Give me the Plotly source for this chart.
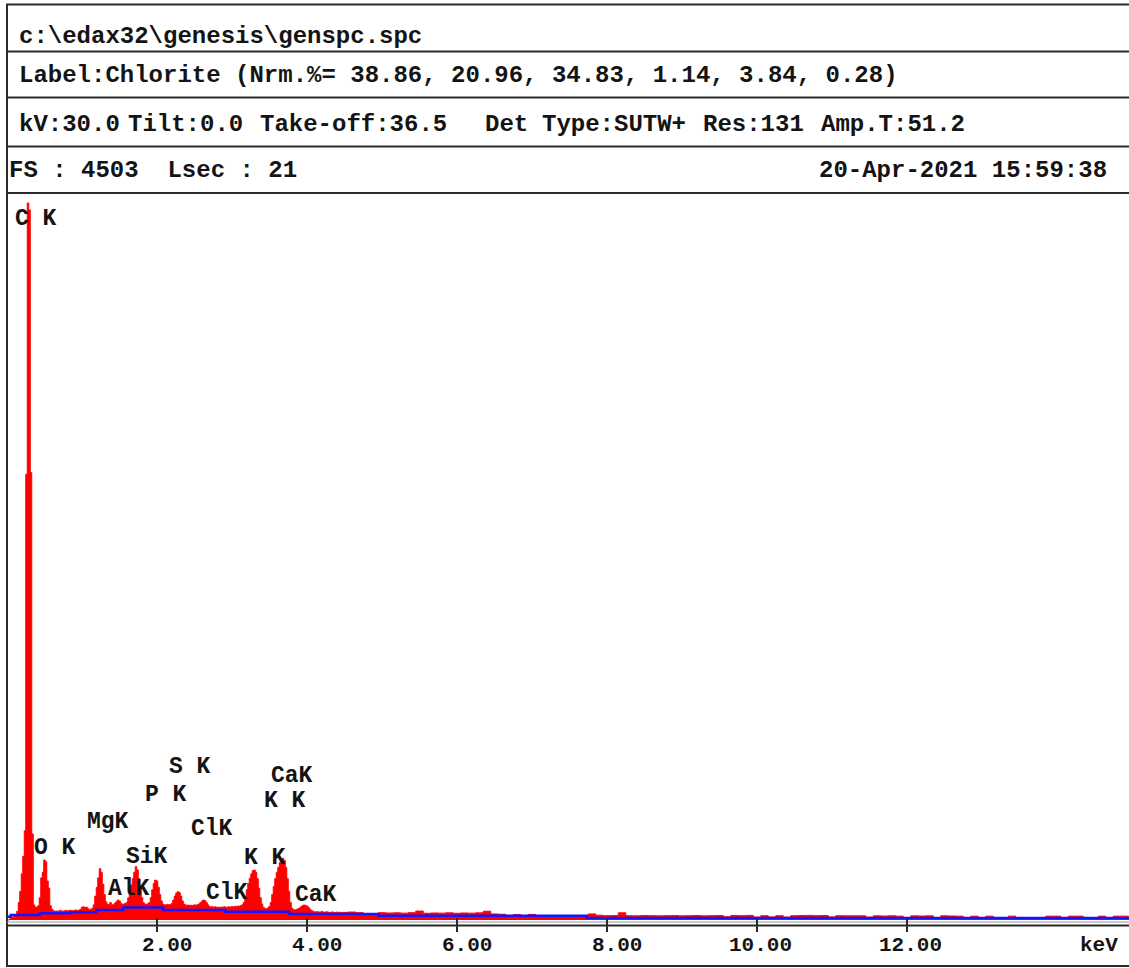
import numpy as np
import plotly.graph_objects as go

W, H = 1129, 968

# ---- spectrum counts -------------------------------------------------------
# 20 eV channels from 0.00 to 4.48 keV
fine_start, fine_step = 0.0, 0.02
fine_counts = [
    0, 0, 6, 12, 18, 25, 35, 55, 110, 180,                 # 0.00-0.18
    290, 400, 560, 2800, 4503, 4460, 2810, 540, 95, 82,    # 0.20-0.38
    80, 90, 140, 265, 300, 377, 365, 245, 200, 90,         # 0.40-0.58
    68, 58, 55, 57, 54, 58, 60, 55, 57, 61,                # 0.60-0.78
    59, 57, 62, 60, 58, 61, 63, 60, 62, 66,                # 0.80-0.98
    80, 83, 78, 81, 72, 65, 68, 74, 95, 150,               # 1.00-1.18
    205, 265, 322, 300, 225, 160, 115, 100, 96, 110,       # 1.20-1.38
    94, 98, 105, 115, 126, 120, 105, 98, 100, 104,         # 1.40-1.58
    110, 140, 190, 220, 260, 300, 335, 315, 260, 200,      # 1.60-1.78
    140, 110, 100, 98, 102, 110, 140, 190, 230, 251,       # 1.80-1.98
    245, 205, 160, 120, 100, 96, 94, 98, 95, 97,           # 2.00-2.18
    105, 125, 150, 170, 178, 172, 150, 120, 100, 95,       # 2.20-2.38
    92, 94, 90, 93, 91, 95, 92, 96, 100, 108,              # 2.40-2.58
    118, 126, 122, 110, 95, 85, 82, 84, 80, 83,            # 2.60-2.78
    79, 81, 78, 82, 80, 84, 79, 81, 83, 80,                # 2.80-2.98
    85, 82, 86, 84, 88, 86, 90, 96, 110, 140,              # 3.00-3.18
    190, 230, 262, 290, 310, 314, 300, 260, 200, 140,      # 3.20-3.38
    100, 80, 72, 70, 75, 85, 110, 160, 210, 260,           # 3.40-3.58
    300, 330, 360, 380, 387, 375, 330, 260, 180, 110,      # 3.60-3.78
    75, 65, 63, 66, 70, 75, 82, 90, 94, 92,                # 3.80-3.98
    88, 80, 68, 60, 55, 52, 50, 53, 49, 51,                # 4.00-4.18
    54, 50, 48, 52, 50, 47, 49, 51, 48, 46,                # 4.20-4.38
    50, 47, 49, 45, 48,                                    # 4.40-4.48
]

# 100 eV channels from 4.5 to 15.0 keV
coarse_start, coarse_step = 4.5, 0.1
coarse_counts = [
    48, 50, 46, 40, 38, 46, 44, 45, 43, 46,    # 4.5-5.4
    56, 42, 44, 43, 45, 42, 44, 43, 45, 55,    # 5.5-6.4
    38, 36, 27, 34, 27, 35, 28, 26, 24, 26,    # 6.5-7.4
    25, 24, 23, 38, 30, 27, 28, 45, 27, 26,    # 7.5-8.4
    28, 27, 26, 27, 28, 26, 27, 28, 26, 27,    # 8.5-9.4
    28, 20, 28, 27, 29, 18, 27, 19, 27, 18,    # 9.5-10.4
    27, 28, 29, 27, 28, 19, 27, 26, 26, 26,    # 10.5-11.4
    18, 26, 25, 26, 24, 14, 26, 25, 26, 14,    # 11.5-12.4
    26, 25, 24, 15, 24, 13, 24, 12, 13, 24,    # 12.5-13.4
    12, 13, 12, 11, 24, 24, 13, 24, 24, 12,    # 13.5-14.4
    13, 24, 12, 24, 24, 12,                    # 14.5-15.0
]

# fitted background (step line)
bg_energy = [0.0, 0.05, 0.44, 0.84, 1.19, 1.55, 2.08, 2.91, 3.76, 4.95, 7.73, 15.0]
bg_counts = [20, 31, 42, 49, 63, 78, 63, 52, 37, 26, 12, 12]

# element line labels: (text, energy at label start, counts level)
peak_labels = [
    ("C K", 0.08, 4402),
    ("O K", 0.33, 452),
    ("MgK", 1.04, 615),
    ("SiK", 1.56, 396),
    ("AlK", 1.32, 195),
    ("P K", 1.81, 785),
    ("S K", 2.13, 961),
    ("ClK", 2.43, 571),
    ("ClK", 2.63, 170),
    ("K K", 3.13, 389),
    ("CaK", 3.49, 904),
    ("K K", 3.40, 747),
    ("CaK", 3.81, 157),
]

tick_vals = [2, 4, 6, 8, 10, 12]

file_path = r"c:\edax32\genesis\genspc.spc"
label_line = "Label:Chlorite (Nrm.%= 38.86, 20.96, 34.83, 1.14, 3.84, 0.28)"
cond_parts = [("kV:30.0", 17), ("Tilt:0.0", 126), ("Take-off:36.5", 258),
              ("Det", 483), ("Type:SUTW+", 540), ("Res:131", 701), ("Amp.T:51.2", 819)]
fs_line = "FS : 4503  Lsec : 21"
date_line = "20-Apr-2021 15:59:38"

# ---- helpers ----------------------------------------------------------------
def px(x):
    return x / W


def py(y):
    return 1 - y / H


FONT = "Liberation Mono, Courier New, monospace"
INK = "#141414"

energy = np.concatenate([
    np.round(fine_start + fine_step * np.arange(len(fine_counts)), 3),
    np.round(coarse_start + coarse_step * np.arange(len(coarse_counts)), 3),
])
counts = np.array(fine_counts + coarse_counts, dtype=float)

fig = go.Figure()
fig.add_trace(go.Scatter(
    x=energy, y=counts, mode="lines", line=dict(color="#ff0000", width=1, shape="hvh"),
    fill="tozeroy", fillcolor="#ff0000", hoverinfo="skip", showlegend=False,
))
fig.add_trace(go.Scatter(
    x=bg_energy, y=bg_counts, mode="lines", line=dict(color="#1414ff", width=2.5, shape="hv"),
    hoverinfo="skip", showlegend=False,
))

shapes = []
line_col = "#2a2a2a"
# outer frame and header rows
for yy in [4.5, 51.5, 97.5, 146.5, 193, 966]:
    shapes.append(dict(type="line", xref="paper", yref="paper", x0=px(6), x1=1.01,
                       y0=py(yy), y1=py(yy), line=dict(color=line_col, width=2)))
shapes.append(dict(type="line", xref="paper", yref="paper", x0=px(7), x1=px(7),
                   y0=py(4), y1=py(967), line=dict(color=line_col, width=2)))
# energy axis
shapes.append(dict(type="line", xref="paper", yref="paper", x0=px(7), x1=1.01,
                   y0=py(922), y1=py(922), line=dict(color="#9a9a9a", width=1.2)))
shapes.append(dict(type="line", xref="paper", yref="paper", x0=px(7), x1=1.01,
                   y0=py(925.5), y1=py(925.5), line=dict(color=line_col, width=2)))
for t in tick_vals:
    shapes.append(dict(type="line", xref="x", yref="paper", x0=t, x1=t,
                       y0=py(918), y1=py(932), line=dict(color=line_col, width=2)))

ann = []


def header(text, x, y, anchor="left"):
    ann.append(dict(text=text, xref="paper", yref="paper", x=px(x), y=py(y),
                    xanchor=anchor, yanchor="middle", showarrow=False,
                    font=dict(family=FONT, size=24, color=INK, weight="bold")))


header(file_path, 17, 37)
header(label_line, 17, 76)
for txt, xx in cond_parts:
    header(txt, xx, 124)
header(fs_line, 7, 170)
header(date_line, 1109, 170, anchor="right")

for txt, e, c in peak_labels:
    ann.append(dict(text=txt, xref="x", yref="y", x=e, y=c, xanchor="left",
                    yanchor="middle", showarrow=False,
                    font=dict(family=FONT, size=23, color=INK, weight="bold")))

for t in tick_vals:
    ann.append(dict(text=f"{t:.2f}", xref="x", yref="paper", x=t, xshift=37, y=py(945),
                    xanchor="right", yanchor="middle", showarrow=False,
                    font=dict(family=FONT, size=21, color=INK, weight="bold")))
ann.append(dict(text="keV", xref="paper", yref="paper", x=px(1120), y=py(945),
                xanchor="right", yanchor="middle", showarrow=False,
                font=dict(family=FONT, size=21, color=INK, weight="bold")))

fig.update_layout(
    width=W, height=H, margin=dict(l=0, r=0, t=0, b=0),
    paper_bgcolor="white", plot_bgcolor="white",
    xaxis=dict(domain=[px(7), 1], range=[0, (W - 7) / 75], visible=False, fixedrange=True),
    yaxis=dict(domain=[py(925), py(193)], range=[-31.4, 4566], visible=False, fixedrange=True),
    shapes=shapes, annotations=ann, showlegend=False,
)

fig.write_html("out.html")
